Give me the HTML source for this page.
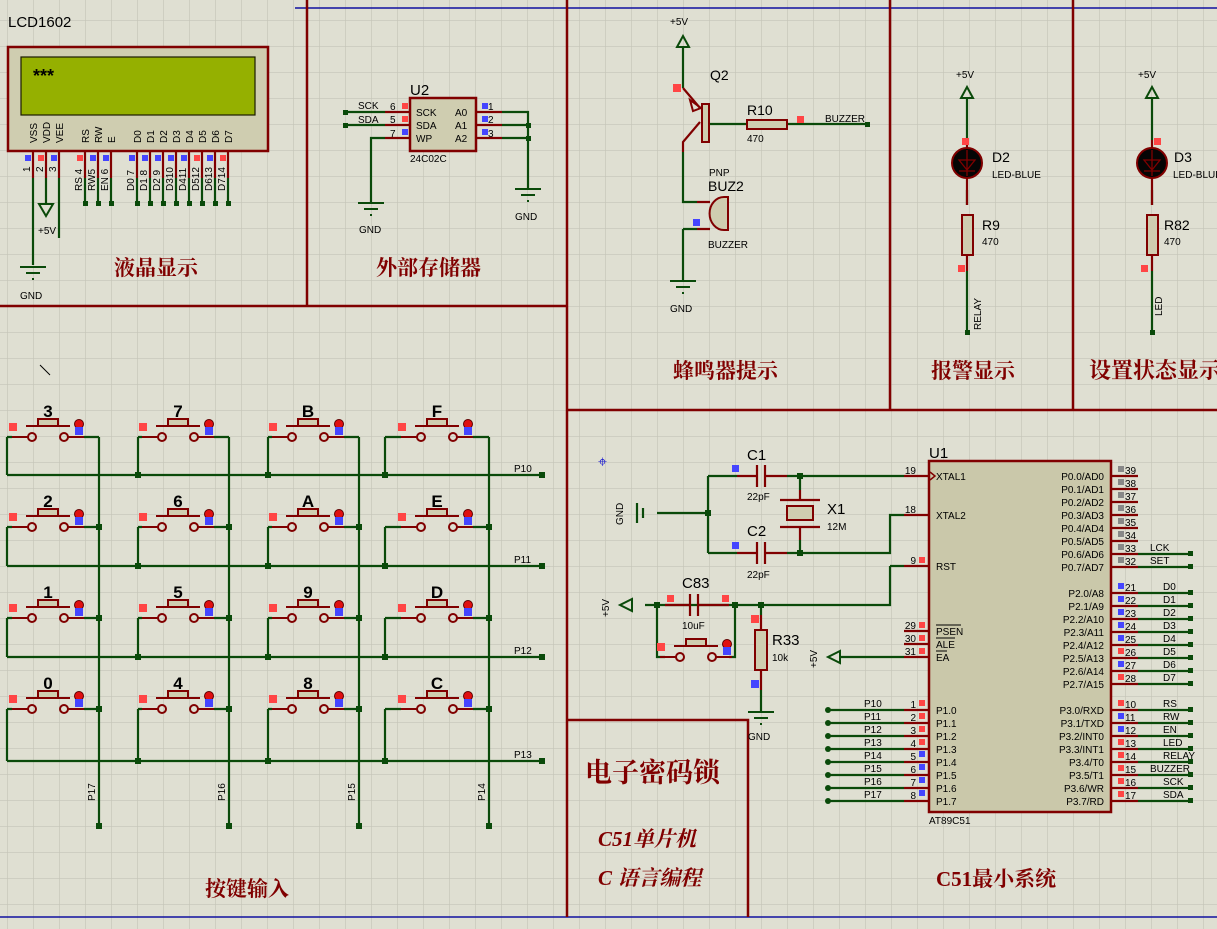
<!DOCTYPE html>
<html><head><meta charset="utf-8"><style>
html,body{margin:0;padding:0;background:#dfdfd2;}
svg{display:block;}
text{font-family:"Liberation Sans","Noto Sans CJK SC",sans-serif;fill:#000;}
.t{font-family:"Liberation Serif","Noto Serif CJK SC",serif;fill:#800000;font-weight:bold;font-size:21px;}
.k{font-family:"Liberation Sans",sans-serif;fill:#800000;font-weight:bold;font-size:17px;text-anchor:middle;}
.w{stroke:#0a4a0a;stroke-width:2.2;fill:none;}
.r{stroke:#800000;stroke-width:2.2;fill:none;}
.b{stroke:#800000;stroke-width:2.5;fill:none;}
.s{font-size:10px;}
.m{font-size:11px;}
</style></head><body>
<svg width="1217" height="929" viewBox="0 0 1217 929" xmlns="http://www.w3.org/2000/svg">
<defs>
<pattern id="g" x="7" y="20" width="26" height="26" patternUnits="userSpaceOnUse">
<path d="M0 0H26M0 0V26" stroke="#c4c4b8" stroke-width="1.3" fill="none"/>
</pattern>
<g id="btn">
<path d="M-20 0H-4M36 0H52" stroke="#800000" stroke-width="2"/>
<circle cx="0" cy="0" r="4" fill="none" stroke="#800000" stroke-width="2"/>
<circle cx="32" cy="0" r="4" fill="none" stroke="#800000" stroke-width="2"/>
<path d="M-6 -11H38" stroke="#800000" stroke-width="2"/>
<rect x="6" y="-18" width="20" height="7" fill="#cfcdb0" stroke="#800000" stroke-width="2"/>
<circle cx="47" cy="-13" r="4.5" fill="#e01010" stroke="#600000" stroke-width="1"/>
<rect x="-23" y="-14" width="8" height="8" fill="#ff4545"/>
<rect x="43" y="-10" width="8" height="8" fill="#4545ff"/>
</g>
<g id="gnd"><path d="M-13 0H13M-7 6H7M-1 12H1" stroke="#0a4a0a" stroke-width="2"/></g>
</defs>
<rect width="1217" height="929" fill="#dfdfd2"/>
<rect width="1217" height="929" fill="url(#g)"/>

<!-- section borders -->
<path d="M295 8H1217" stroke="#1010a0" stroke-width="1.5"/>
<path d="M0 917H1217" stroke="#1010a0" stroke-width="1.5"/>
<path d="M0 306H567M307 0V306M567 0V917M567 410H1217M890 0V410M1073 0V410M567 720H748V917" class="b"/>

<!-- LCD -->
<text x="8" y="27" style="font-size:15px">LCD1602</text>
<rect x="8" y="47" width="260" height="104" fill="#cfcdb0" stroke="#800000" stroke-width="2.5"/>
<rect x="21" y="57" width="234" height="58" fill="#95b000" stroke="#1a1a00" stroke-width="1.2"/>
<text x="33" y="82" style="font-size:18px;font-weight:bold">***</text>
<g class="s">
<text transform="translate(37,143) rotate(-90)">VSS</text>
<text transform="translate(50,143) rotate(-90)">VDD</text>
<text transform="translate(63,143) rotate(-90)">VEE</text>
<text transform="translate(89,143) rotate(-90)">RS</text>
<text transform="translate(102,143) rotate(-90)">RW</text>
<text transform="translate(115,143) rotate(-90)">E</text>
<text transform="translate(141,143) rotate(-90)">D0</text>
<text transform="translate(154,143) rotate(-90)">D1</text>
<text transform="translate(167,143) rotate(-90)">D2</text>
<text transform="translate(180,143) rotate(-90)">D3</text>
<text transform="translate(193,143) rotate(-90)">D4</text>
<text transform="translate(206,143) rotate(-90)">D5</text>
<text transform="translate(219,143) rotate(-90)">D6</text>
<text transform="translate(232,143) rotate(-90)">D7</text>
<text transform="translate(30,172) rotate(-90)">1</text>
<text transform="translate(43,172) rotate(-90)">2</text>
<text transform="translate(56,172) rotate(-90)">3</text>
<text transform="translate(82,191) rotate(-90)">RS 4</text>
<text transform="translate(95,191) rotate(-90)">RW5</text>
<text transform="translate(108,191) rotate(-90)">EN 6</text>
<text transform="translate(134,191) rotate(-90)">D0 7</text>
<text transform="translate(147,191) rotate(-90)">D1 8</text>
<text transform="translate(160,191) rotate(-90)">D2 9</text>
<text transform="translate(173,191) rotate(-90)">D310</text>
<text transform="translate(186,191) rotate(-90)">D411</text>
<text transform="translate(199,191) rotate(-90)">D512</text>
<text transform="translate(212,191) rotate(-90)">D613</text>
<text transform="translate(225,191) rotate(-90)">D714</text>
</g>
<path d="M33 151V178M46 151V178M59 151V178M85 151V178M98 151V178M111 151V178M137 151V178M150 151V178M163 151V178M176 151V178M189 151V178M202 151V178M215 151V178M228 151V178" class="r"/>
<path d="M33 178V265M46 178V204M59 178V238M85 178V203M98 178V203M111 178V203M137 178V203M150 178V203M163 178V203M176 178V203M189 178V203M202 178V203M215 178V203M228 178V203" class="w"/>
<path d="M39 204H53L46 216Z" fill="none" stroke="#0a4a0a" stroke-width="2"/>
<text x="38" y="234" class="s">+5V</text>
<use href="#gnd" x="33" y="267"/>
<text x="20" y="299" class="s">GND</text>
<g fill="#0a4a0a"><rect x="83" y="201" width="5" height="5"/><rect x="96" y="201" width="5" height="5"/><rect x="109" y="201" width="5" height="5"/><rect x="135" y="201" width="5" height="5"/><rect x="148" y="201" width="5" height="5"/><rect x="161" y="201" width="5" height="5"/><rect x="174" y="201" width="5" height="5"/><rect x="187" y="201" width="5" height="5"/><rect x="200" y="201" width="5" height="5"/><rect x="213" y="201" width="5" height="5"/><rect x="226" y="201" width="5" height="5"/></g>
<g><rect x="25" y="155" width="6" height="6" fill="#4545ff"/><rect x="38" y="155" width="6" height="6" fill="#ff4545"/><rect x="51" y="155" width="6" height="6" fill="#4545ff"/><rect x="77" y="155" width="6" height="6" fill="#ff4545"/><rect x="90" y="155" width="6" height="6" fill="#4545ff"/><rect x="103" y="155" width="6" height="6" fill="#4545ff"/><rect x="129" y="155" width="6" height="6" fill="#4545ff"/><rect x="142" y="155" width="6" height="6" fill="#4545ff"/><rect x="155" y="155" width="6" height="6" fill="#4545ff"/><rect x="168" y="155" width="6" height="6" fill="#4545ff"/><rect x="181" y="155" width="6" height="6" fill="#4545ff"/><rect x="194" y="155" width="6" height="6" fill="#ff4545"/><rect x="207" y="155" width="6" height="6" fill="#4545ff"/><rect x="220" y="155" width="6" height="6" fill="#ff4545"/></g>
<text x="114" y="275" class="t">液晶显示</text>

<!-- EEPROM -->
<text x="410" y="95" style="font-size:15px">U2</text>
<rect x="410" y="98" width="66" height="53" fill="#cfcdb0" stroke="#800000" stroke-width="2.5"/>
<path d="M385 112H410M385 125H410M385 138H410M476 112H502M476 125H502M476 138H502" class="r"/>
<path d="M345 112H385M345 125H385M385 138H371V202M502 112H528V188M502 125H528M502 138H528" class="w"/>
<g fill="#0a4a0a"><rect x="343" y="110" width="5" height="5"/><rect x="343" y="123" width="5" height="5"/><rect x="526" y="123" width="5" height="5"/><rect x="526" y="136" width="5" height="5"/></g>
<use href="#gnd" x="371" y="203"/><use href="#gnd" x="528" y="189"/>
<g class="s">
<text x="358" y="109">SCK</text><text x="358" y="123">SDA</text>
<text x="390" y="110">6</text><text x="390" y="123">5</text><text x="390" y="137">7</text>
<text x="416" y="116">SCK</text><text x="416" y="129">SDA</text><text x="416" y="142">WP</text>
<text x="455" y="116">A0</text><text x="455" y="129">A1</text><text x="455" y="142">A2</text>
<text x="488" y="110">1</text><text x="488" y="123">2</text><text x="488" y="137">3</text>
<text x="410" y="162">24C02C</text>
<text x="359" y="233">GND</text><text x="515" y="220">GND</text>
</g>
<rect x="402" y="103" width="6" height="6" fill="#ff4545"/><rect x="402" y="116" width="6" height="6" fill="#ff4545"/><rect x="402" y="129" width="6" height="6" fill="#4545ff"/>
<rect x="482" y="103" width="6" height="6" fill="#4545ff"/><rect x="482" y="116" width="6" height="6" fill="#4545ff"/><rect x="482" y="129" width="6" height="6" fill="#4545ff"/>
<text x="376" y="275" class="t">外部存储器</text>

<!-- Buzzer -->
<text x="670" y="25" class="s">+5V</text>
<path d="M677 47H689L683 36Z" fill="none" stroke="#0a4a0a" stroke-width="2"/>
<path d="M683 47V88M683 152V202H697M683 229H697M683 229V280M709 124H747M787 124H865" class="w"/>
<path d="M683 88L700 108M700 122L683 142V152M697 202H710M697 229H710" class="r"/>
<path d="M690 100L701 108L693 111Z" fill="none" stroke="#800000" stroke-width="2"/>
<rect x="702" y="104" width="7" height="38" fill="#cfcdb0" stroke="#800000" stroke-width="2"/>
<rect x="747" y="120" width="40" height="9" fill="#cfcdb0" stroke="#800000" stroke-width="2"/>
<path d="M728 197V230H724A14 16 0 0 1 724 197Z" fill="#cfcdb0" stroke="#800000" stroke-width="2"/>
<rect x="865" y="122" width="5" height="5" fill="#0a4a0a"/>
<use href="#gnd" x="683" y="281"/>
<rect x="673" y="84" width="8" height="8" fill="#ff4545"/><rect x="797" y="116" width="7" height="7" fill="#ff4545"/><rect x="693" y="219" width="7" height="7" fill="#4545ff"/>
<text x="710" y="80" style="font-size:14px">Q2</text>
<text x="747" y="115" style="font-size:14px">R10</text>
<text x="747" y="142" class="s">470</text>
<text x="825" y="122" class="s">BUZZER</text>
<text x="709" y="176" class="s">PNP</text>
<text x="708" y="191" style="font-size:14px">BUZ2</text>
<text x="708" y="248" class="s">BUZZER</text>
<text x="670" y="312" class="s">GND</text>
<text x="673" y="378" class="t">蜂鸣器提示</text>

<!-- LEDs -->
<g>
<text x="956" y="78" class="s">+5V</text>
<path d="M961 98H973L967 87Z" fill="none" stroke="#0a4a0a" stroke-width="2"/>
<path d="M967 98V140M967 190V205M967 271V332" class="w"/>
<path d="M967 140V205M967 255V271" class="r"/>
<circle cx="967" cy="163" r="15" fill="#050505" stroke="#800000" stroke-width="2"/>
<path d="M959 160H975L967 170ZM959 171H975M967 150V176" stroke="#800000" stroke-width="1.3" fill="none"/>
<rect x="962" y="215" width="11" height="40" fill="#cfcdb0" stroke="#800000" stroke-width="2"/>
<rect x="962" y="138" width="7" height="7" fill="#ff4545"/><rect x="958" y="265" width="7" height="7" fill="#ff4545"/>
<rect x="965" y="330" width="5" height="5" fill="#0a4a0a"/>
<text x="992" y="162" style="font-size:14px">D2</text><text x="992" y="178" class="s">LED-BLUE</text>
<text x="982" y="230" style="font-size:14px">R9</text><text x="982" y="245" class="s">470</text>
<text transform="translate(981,330) rotate(-90)" class="s">RELAY</text>
</g>
<g>
<text x="1138" y="78" class="s">+5V</text>
<path d="M1146 98H1158L1152 87Z" fill="none" stroke="#0a4a0a" stroke-width="2"/>
<path d="M1152 98V140M1152 190V205M1152 271V332" class="w"/>
<path d="M1152 140V205M1152 255V271" class="r"/>
<circle cx="1152" cy="163" r="15" fill="#050505" stroke="#800000" stroke-width="2"/>
<path d="M1144 160H1160L1152 170ZM1144 171H1160M1152 150V176" stroke="#800000" stroke-width="1.3" fill="none"/>
<rect x="1147" y="215" width="11" height="40" fill="#cfcdb0" stroke="#800000" stroke-width="2"/>
<rect x="1154" y="138" width="7" height="7" fill="#ff4545"/><rect x="1141" y="265" width="7" height="7" fill="#ff4545"/>
<rect x="1150" y="330" width="5" height="5" fill="#0a4a0a"/>
<text x="1174" y="162" style="font-size:14px">D3</text><text x="1173" y="178" class="s">LED-BLUE</text>
<text x="1164" y="230" style="font-size:14px">R82</text><text x="1164" y="245" class="s">470</text>
<text transform="translate(1162,316) rotate(-90)" class="s">LED</text>
</g>
<text x="931" y="378" class="t">报警显示</text>
<text x="1089" y="378" class="t" style="font-size:22px">设置状态显示</text>

<!-- Keypad -->
<path d="M40 365L50 375" stroke="#000" stroke-width="1"/>
<path d="M7 475H542M7 566H542M7 657H542M7 761H542M99 437V826M229 437V826M359 437V826M489 437V826" class="w"/>
<path d="M7 437V475M138 437V475M268 437V475M385 437V475M7 527V566M138 527V566M268 527V566M385 527V566M7 618V657M138 618V657M268 618V657M385 618V657M7 709V761M138 709V761M268 709V761M385 709V761" class="w"/>
<path d="M7 437H12M84 437H99M138 437H142M214 437H229M268 437H272M344 437H359M385 437H401M473 437H489M7 527H12M84 527H99M138 527H142M214 527H229M268 527H272M344 527H359M385 527H401M473 527H489M7 618H12M84 618H99M138 618H142M214 618H229M268 618H272M344 618H359M385 618H401M473 618H489M7 709H12M84 709H99M138 709H142M214 709H229M268 709H272M344 709H359M385 709H401M473 709H489" class="w"/>
<g>
<use href="#btn" x="32" y="437"/><use href="#btn" x="162" y="437"/><use href="#btn" x="292" y="437"/><use href="#btn" x="421" y="437"/>
<use href="#btn" x="32" y="527"/><use href="#btn" x="162" y="527"/><use href="#btn" x="292" y="527"/><use href="#btn" x="421" y="527"/>
<use href="#btn" x="32" y="618"/><use href="#btn" x="162" y="618"/><use href="#btn" x="292" y="618"/><use href="#btn" x="421" y="618"/>
<use href="#btn" x="32" y="709"/><use href="#btn" x="162" y="709"/><use href="#btn" x="292" y="709"/><use href="#btn" x="421" y="709"/>
</g>
<g class="k">
<text x="48" y="417">3</text><text x="178" y="417">7</text><text x="308" y="417">B</text><text x="437" y="417">F</text>
<text x="48" y="507">2</text><text x="178" y="507">6</text><text x="308" y="507">A</text><text x="437" y="507">E</text>
<text x="48" y="598">1</text><text x="178" y="598">5</text><text x="308" y="598">9</text><text x="437" y="598">D</text>
<text x="48" y="689">0</text><text x="178" y="689">4</text><text x="308" y="689">8</text><text x="437" y="689">C</text>
</g>
<g fill="#0a4a0a">
<rect x="135" y="472" width="6" height="6"/><rect x="265" y="472" width="6" height="6"/><rect x="382" y="472" width="6" height="6"/>
<rect x="135" y="563" width="6" height="6"/><rect x="265" y="563" width="6" height="6"/><rect x="382" y="563" width="6" height="6"/>
<rect x="135" y="654" width="6" height="6"/><rect x="265" y="654" width="6" height="6"/><rect x="382" y="654" width="6" height="6"/>
<rect x="135" y="758" width="6" height="6"/><rect x="265" y="758" width="6" height="6"/><rect x="382" y="758" width="6" height="6"/>
<rect x="96" y="524" width="6" height="6"/><rect x="226" y="524" width="6" height="6"/><rect x="356" y="524" width="6" height="6"/><rect x="486" y="524" width="6" height="6"/>
<rect x="96" y="615" width="6" height="6"/><rect x="226" y="615" width="6" height="6"/><rect x="356" y="615" width="6" height="6"/><rect x="486" y="615" width="6" height="6"/>
<rect x="96" y="706" width="6" height="6"/><rect x="226" y="706" width="6" height="6"/><rect x="356" y="706" width="6" height="6"/><rect x="486" y="706" width="6" height="6"/>
<rect x="539" y="472" width="6" height="6"/><rect x="539" y="563" width="6" height="6"/><rect x="539" y="654" width="6" height="6"/><rect x="539" y="758" width="6" height="6"/>
<rect x="96" y="823" width="6" height="6"/><rect x="226" y="823" width="6" height="6"/><rect x="356" y="823" width="6" height="6"/><rect x="486" y="823" width="6" height="6"/>
</g>
<g class="s">
<text x="514" y="472">P10</text><text x="514" y="563">P11</text><text x="514" y="654">P12</text><text x="514" y="758">P13</text>
<text transform="translate(95,801) rotate(-90)">P17</text><text transform="translate(225,801) rotate(-90)">P16</text>
<text transform="translate(355,801) rotate(-90)">P15</text><text transform="translate(485,801) rotate(-90)">P14</text>
</g>
<text x="205" y="896" class="t">按键输入</text>

<!-- Titles box -->
<text x="585" y="782" class="t" style="font-size:27px">电子密码锁</text>
<text x="598" y="846" class="t" style="font-style:italic">C51单片机</text>
<text x="598" y="885" class="t" style="font-style:italic">C 语言编程</text>

<!-- Crystal / reset -->
<text x="598" y="467" style="font-size:16px;fill:#2020d0">⌖</text>
<path d="M657 513H708M708 476V553M708 476H737M708 553H737M787 476H904M800 476V490M800 540V553M787 553H890V515H904M890 566H904M890 566V605H645M657 605V657H665M735 605V657H729M761 605V615M761 690V712M840 657H904M828 710H904M828 723H904M828 736H904M828 749H904M828 762H904M828 775H904M828 788H904M828 801H904" class="w"/>
<path d="M637 503V523M643 508V518" stroke="#0a4a0a" stroke-width="2.2"/>
<path d="M737 476H757M765 476H787M737 553H757M765 553H787M665 605H690M698 605H729M761 615V630M761 670V690M904 476H929M904 515H929M904 566H929M904 631H929M904 644H929M904 657H929M904 710H929M904 723H929M904 736H929M904 749H929M904 762H929M904 775H929M904 788H929M904 801H929" class="r"/>
<path d="M757 465V487M765 465V487M757 542V564M765 542V564M690 594V616M698 594V616M780 500H820M780 527H820M800 490V500M800 527V540" class="r"/>
<rect x="787" y="506" width="26" height="14" fill="#cfcdb0" stroke="#800000" stroke-width="2"/>
<rect x="755" y="630" width="12" height="40" fill="#cfcdb0" stroke="#800000" stroke-width="2"/>
<use href="#btn" x="680" y="657"/>
<path d="M632 599V611L620 605Z" fill="none" stroke="#0a4a0a" stroke-width="2"/>
<path d="M840 651V663L828 657Z" fill="none" stroke="#0a4a0a" stroke-width="2"/>
<use href="#gnd" x="761" y="712"/>
<g fill="#0a4a0a"><rect x="705" y="510" width="6" height="6"/><rect x="797" y="473" width="6" height="6"/><rect x="797" y="550" width="6" height="6"/><rect x="654" y="602" width="6" height="6"/><rect x="732" y="602" width="6" height="6"/><rect x="758" y="602" width="6" height="6"/>
<circle cx="828" cy="710" r="3"/><circle cx="828" cy="723" r="3"/><circle cx="828" cy="736" r="3"/><circle cx="828" cy="749" r="3"/><circle cx="828" cy="762" r="3"/><circle cx="828" cy="775" r="3"/><circle cx="828" cy="788" r="3"/><circle cx="828" cy="801" r="3"/></g>
<rect x="732" y="465" width="7" height="7" fill="#4545ff"/><rect x="732" y="542" width="7" height="7" fill="#4545ff"/>
<rect x="667" y="595" width="7" height="7" fill="#ff4545"/><rect x="722" y="595" width="7" height="7" fill="#ff4545"/>
<rect x="751" y="615" width="8" height="8" fill="#ff4545"/><rect x="751" y="680" width="8" height="8" fill="#4545ff"/>
<g>
<text x="747" y="460" style="font-size:15px">C1</text><text x="747" y="500" class="s">22pF</text>
<text x="747" y="536" style="font-size:15px">C2</text><text x="747" y="578" class="s">22pF</text>
<text x="827" y="514" style="font-size:15px">X1</text><text x="827" y="530" class="s">12M</text>
<text x="682" y="588" style="font-size:15px">C83</text><text x="682" y="629" class="s">10uF</text>
<text x="772" y="645" style="font-size:15px">R33</text><text x="772" y="661" class="s">10k</text>
<text x="748" y="740" class="s">GND</text>
<text transform="translate(623,525) rotate(-90)" class="s">GND</text>
<text transform="translate(609,617) rotate(-90)" class="s">+5V</text>
<text transform="translate(817,668) rotate(-90)" class="s">+5V</text>
</g>

<!-- MCU -->
<text x="929" y="458" style="font-size:15px">U1</text>
<rect x="929" y="461" width="182" height="351" fill="#cac8aa" stroke="#800000" stroke-width="2.5"/>
<path d="M1111 476H1138M1111 489H1138M1111 502H1138M1111 515H1138M1111 528H1138M1111 541H1138M1111 554H1138M1111 567H1138M1111 593H1138M1111 606H1138M1111 619H1138M1111 632H1138M1111 645H1138M1111 658H1138M1111 671H1138M1111 684H1138M1111 710H1138M1111 723H1138M1111 736H1138M1111 749H1138M1111 762H1138M1111 775H1138M1111 788H1138M1111 801H1138" class="r"/>
<path d="M1138 554H1190M1138 567H1190M1138 593H1190M1138 606H1190M1138 619H1190M1138 632H1190M1138 645H1190M1138 658H1190M1138 671H1190M1138 684H1190M1138 710H1190M1138 723H1190M1138 736H1190M1138 749H1190M1138 762H1190M1138 775H1190M1138 788H1190M1138 801H1190" class="w"/>
<g fill="#0a4a0a"><rect x="1188" y="551" width="5" height="5"/><rect x="1188" y="564" width="5" height="5"/><rect x="1188" y="590" width="5" height="5"/><rect x="1188" y="603" width="5" height="5"/><rect x="1188" y="616" width="5" height="5"/><rect x="1188" y="629" width="5" height="5"/><rect x="1188" y="642" width="5" height="5"/><rect x="1188" y="655" width="5" height="5"/><rect x="1188" y="668" width="5" height="5"/><rect x="1188" y="681" width="5" height="5"/><rect x="1188" y="707" width="5" height="5"/><rect x="1188" y="720" width="5" height="5"/><rect x="1188" y="733" width="5" height="5"/><rect x="1188" y="746" width="5" height="5"/><rect x="1188" y="759" width="5" height="5"/><rect x="1188" y="772" width="5" height="5"/><rect x="1188" y="785" width="5" height="5"/><rect x="1188" y="798" width="5" height="5"/></g>
<g fill="#888"><rect x="1118" y="466" width="6" height="6"/><rect x="1118" y="479" width="6" height="6"/><rect x="1118" y="492" width="6" height="6"/><rect x="1118" y="505" width="6" height="6"/><rect x="1118" y="518" width="6" height="6"/><rect x="1118" y="531" width="6" height="6"/><rect x="1118" y="544" width="6" height="6"/><rect x="1118" y="557" width="6" height="6"/></g>
<g fill="#4545ff"><rect x="1118" y="583" width="6" height="6"/><rect x="1118" y="596" width="6" height="6"/><rect x="1118" y="609" width="6" height="6"/><rect x="1118" y="622" width="6" height="6"/><rect x="1118" y="635" width="6" height="6"/><rect x="1118" y="661" width="6" height="6"/><rect x="1118" y="713" width="6" height="6"/><rect x="1118" y="726" width="6" height="6"/><rect x="919" y="751" width="6" height="6"/><rect x="919" y="764" width="6" height="6"/><rect x="919" y="777" width="6" height="6"/><rect x="919" y="790" width="6" height="6"/></g>
<g fill="#ff4545"><rect x="1118" y="648" width="6" height="6"/><rect x="1118" y="674" width="6" height="6"/><rect x="1118" y="700" width="6" height="6"/><rect x="1118" y="739" width="6" height="6"/><rect x="1118" y="752" width="6" height="6"/><rect x="1118" y="765" width="6" height="6"/><rect x="1118" y="778" width="6" height="6"/><rect x="1118" y="791" width="6" height="6"/><rect x="919" y="557" width="6" height="6"/><rect x="919" y="622" width="6" height="6"/><rect x="919" y="635" width="6" height="6"/><rect x="919" y="648" width="6" height="6"/><rect x="919" y="700" width="6" height="6"/><rect x="919" y="713" width="6" height="6"/><rect x="919" y="726" width="6" height="6"/><rect x="919" y="739" width="6" height="6"/></g>
<path d="M930 472L935 476L930 480" stroke="#800000" stroke-width="1.5" fill="none"/>
<g class="s">
<text x="936" y="480">XTAL1</text><text x="936" y="519">XTAL2</text><text x="936" y="570">RST</text>
<text x="936" y="635">PSEN</text><text x="936" y="648">ALE</text><text x="936" y="661">EA</text>
<path d="M936 625H961M936 638H955M936 651H947" stroke="#000" stroke-width="1"/>
<text x="936" y="714">P1.0</text><text x="936" y="727">P1.1</text><text x="936" y="740">P1.2</text><text x="936" y="753">P1.3</text><text x="936" y="766">P1.4</text><text x="936" y="779">P1.5</text><text x="936" y="792">P1.6</text><text x="936" y="805">P1.7</text>
<g text-anchor="end">
<text x="1104" y="480">P0.0/AD0</text><text x="1104" y="493">P0.1/AD1</text><text x="1104" y="506">P0.2/AD2</text><text x="1104" y="519">P0.3/AD3</text><text x="1104" y="532">P0.4/AD4</text><text x="1104" y="545">P0.5/AD5</text><text x="1104" y="558">P0.6/AD6</text><text x="1104" y="571">P0.7/AD7</text>
<text x="1104" y="597">P2.0/A8</text><text x="1104" y="610">P2.1/A9</text><text x="1104" y="623">P2.2/A10</text><text x="1104" y="636">P2.3/A11</text><text x="1104" y="649">P2.4/A12</text><text x="1104" y="662">P2.5/A13</text><text x="1104" y="675">P2.6/A14</text><text x="1104" y="688">P2.7/A15</text>
<text x="1104" y="714">P3.0/RXD</text><text x="1104" y="727">P3.1/TXD</text><text x="1104" y="740">P3.2/INT0</text><text x="1104" y="753">P3.3/INT1</text><text x="1104" y="766">P3.4/T0</text><text x="1104" y="779">P3.5/T1</text><text x="1104" y="792">P3.6/WR</text><text x="1104" y="805">P3.7/RD</text>
<text x="916" y="474">19</text><text x="916" y="513">18</text><text x="916" y="564">9</text><text x="916" y="629">29</text><text x="916" y="642">30</text><text x="916" y="655">31</text>
<text x="916" y="708">1</text><text x="916" y="721">2</text><text x="916" y="734">3</text><text x="916" y="747">4</text><text x="916" y="760">5</text><text x="916" y="773">6</text><text x="916" y="786">7</text><text x="916" y="799">8</text>
</g>
<text x="1125" y="474">39</text><text x="1125" y="487">38</text><text x="1125" y="500">37</text><text x="1125" y="513">36</text><text x="1125" y="526">35</text><text x="1125" y="539">34</text><text x="1125" y="552">33</text><text x="1125" y="565">32</text>
<text x="1125" y="591">21</text><text x="1125" y="604">22</text><text x="1125" y="617">23</text><text x="1125" y="630">24</text><text x="1125" y="643">25</text><text x="1125" y="656">26</text><text x="1125" y="669">27</text><text x="1125" y="682">28</text>
<text x="1125" y="708">10</text><text x="1125" y="721">11</text><text x="1125" y="734">12</text><text x="1125" y="747">13</text><text x="1125" y="760">14</text><text x="1125" y="773">15</text><text x="1125" y="786">16</text><text x="1125" y="799">17</text>
<text x="1150" y="551">LCK</text><text x="1150" y="564">SET</text>
<text x="1163" y="590">D0</text><text x="1163" y="603">D1</text><text x="1163" y="616">D2</text><text x="1163" y="629">D3</text><text x="1163" y="642">D4</text><text x="1163" y="655">D5</text><text x="1163" y="668">D6</text><text x="1163" y="681">D7</text>
<text x="1163" y="707">RS</text><text x="1163" y="720">RW</text><text x="1163" y="733">EN</text><text x="1163" y="746">LED</text><text x="1163" y="759">RELAY</text><text x="1150" y="772">BUZZER</text><text x="1163" y="785">SCK</text><text x="1163" y="798">SDA</text>
<text x="864" y="707">P10</text><text x="864" y="720">P11</text><text x="864" y="733">P12</text><text x="864" y="746">P13</text><text x="864" y="759">P14</text><text x="864" y="772">P15</text><text x="864" y="785">P16</text><text x="864" y="798">P17</text>
<text x="929" y="824">AT89C51</text>
</g>
<text x="936" y="886" class="t">C51最小系统</text>
</svg>
</body></html>
